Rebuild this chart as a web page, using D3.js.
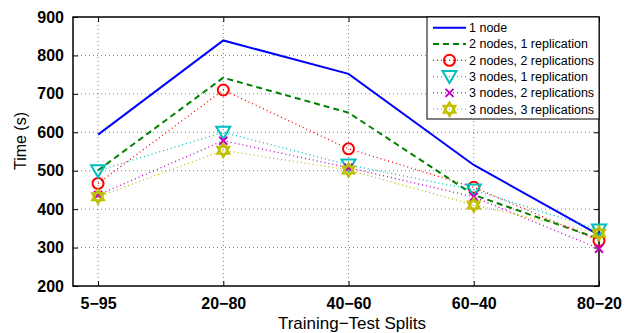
<!DOCTYPE html>
<html lang="en">
<head>
    <title>Training-Test Splits</title>
    <script src="https://d3js.org/d3.v7.min.js"></script>
    <style>
        body { margin: 0; background: white; }
        svg text { font-family: "Liberation Sans", Arial, sans-serif; fill: black; }
        .tick-label { font-size: 16px; font-weight: bold; }
        .grid { stroke: #808080; stroke-width: 1; stroke-dasharray: 1,3; }
    </style>
</head>
<body>
    <svg id="chart"></svg>

    <script>
        var width = 629;
        var height = 333;
        var plot = { left: 73, right: 599, top: 17, bottom: 286 };

        // data
        var splits = ["5\u221295", "20\u221280", "40\u221260", "60\u221240", "80\u221220"];
        var oneNode = [594, 839, 752, 515, 333];
        var twoNodesOneRep = [501, 742, 651, 437, 323];
        var twoNodesTwoRep = [467, 710, 557, 457, 318];
        var threeNodesOneRep = [500, 600, 515, 450, 346];
        var threeNodesTwoRep = [437, 578, 508, 432, 297];
        var threeNodesThreeRep = [432, 553, 502, 411, 337];
        var yTicks = [200, 300, 400, 500, 600, 700, 800, 900];

        var series = [
            { name: "1 node", values: oneNode, color: "#0000ff", width: 2, dash: null, marker: null },
            { name: "2 nodes, 1 replication", values: twoNodesOneRep, color: "#008000", width: 2, dash: "6,4", marker: null },
            { name: "2 nodes, 2 replications", values: twoNodesTwoRep, color: "#ff0000", width: 1.3, dash: "1,3", marker: "circle" },
            { name: "3 nodes, 1 replication", values: threeNodesOneRep, color: "#00bfbf", width: 1.3, dash: "1,3", marker: "triangle" },
            { name: "3 nodes, 2 replications", values: threeNodesTwoRep, color: "#bf00bf", width: 1.3, dash: "1,3", marker: "cross" },
            { name: "3 nodes, 3 replications", values: threeNodesThreeRep, color: "#bfbf00", width: 1.3, dash: "1,3", marker: "hexagram" }
        ];

        var xscale = d3.scaleLinear()
                .domain([0.8, 5])
                .range([plot.left, plot.right]);
        var yscale = d3.scaleLinear()
                .domain([200, 900])
                .range([plot.bottom, plot.top]);

        var svg = d3.select("#chart")
            .attr("width", width)
            .attr("height", height);

        // grid
        svg.append("g").selectAll("line")
            .data(yTicks.slice(1, -1))
            .enter().append("line")
            .attr("class", "grid")
            .attr("x1", plot.left).attr("x2", plot.right)
            .attr("y1", function (d) { return yscale(d); })
            .attr("y2", function (d) { return yscale(d); });
        svg.append("g").selectAll("line")
            .data(d3.range(1, splits.length))
            .enter().append("line")
            .attr("class", "grid")
            .attr("x1", function (d) { return xscale(d); })
            .attr("x2", function (d) { return xscale(d); })
            .attr("y1", plot.top).attr("y2", plot.bottom);

        // axes with inward ticks
        var xaxis = d3.axisBottom(xscale)
            .tickValues(d3.range(1, splits.length + 1))
            .tickFormat(function (d) { return splits[d - 1]; })
            .tickSizeInner(-5).tickSizeOuter(0).tickPadding(12);
        var yaxis = d3.axisLeft(yscale)
            .tickValues(yTicks)
            .tickSizeInner(-5).tickSizeOuter(0).tickPadding(9);

        var gx = svg.append("g")
            .attr("transform", "translate(0," + plot.bottom + ")")
            .call(xaxis);
        var gy = svg.append("g")
            .attr("transform", "translate(" + plot.left + ",0)")
            .call(yaxis);
        svg.append("g")
            .attr("transform", "translate(" + plot.right + ",0)")
            .call(d3.axisRight(yscale).tickValues(yTicks).tickSizeInner(-5).tickSizeOuter(0).tickFormat(""));
        svg.append("g")
            .attr("transform", "translate(0," + plot.top + ")")
            .call(d3.axisTop(xscale).tickValues(d3.range(1, splits.length + 1)).tickSizeInner(-5).tickSizeOuter(0).tickFormat(""));

        svg.selectAll(".domain").remove();
        svg.selectAll(".tick line").attr("stroke", "black");
        [gx, gy].forEach(function (g) {
            g.selectAll("text").attr("class", "tick-label").attr("fill", "black");
        });

        svg.append("rect")
            .attr("x", plot.left).attr("y", plot.top)
            .attr("width", plot.right - plot.left).attr("height", plot.bottom - plot.top)
            .attr("fill", "none").attr("stroke", "black").attr("stroke-width", 1.5);

        // markers
        function drawMarker(g, type, color, cx, cy) {
            if (type === "circle") {
                g.append("circle").attr("cx", cx).attr("cy", cy).attr("r", 5.5)
                    .attr("fill", "none").attr("stroke", color).attr("stroke-width", 2);
            } else if (type === "triangle") {
                g.append("path")
                    .attr("d", "M" + (cx - 7) + "," + (cy - 5.5) + "L" + (cx + 7) + "," + (cy - 5.5) + "L" + cx + "," + (cy + 6.5) + "Z")
                    .attr("fill", "none").attr("stroke", color).attr("stroke-width", 2);
            } else if (type === "cross") {
                g.append("path")
                    .attr("d", "M" + (cx - 4) + "," + (cy - 4) + "L" + (cx + 4) + "," + (cy + 4) + "M" + (cx - 4) + "," + (cy + 4) + "L" + (cx + 4) + "," + (cy - 4))
                    .attr("stroke", color).attr("stroke-width", 2);
            } else if (type === "hexagram") {
                var r = 7;
                var pts1 = [], pts2 = [];
                for (var i = 0; i < 3; i++) {
                    var a1 = -Math.PI / 2 + i * 2 * Math.PI / 3;
                    var a2 = Math.PI / 2 + i * 2 * Math.PI / 3;
                    pts1.push([cx + r * Math.cos(a1), cy + r * Math.sin(a1)]);
                    pts2.push([cx + r * Math.cos(a2), cy + r * Math.sin(a2)]);
                }
                [pts1, pts2].forEach(function (p) {
                    g.append("path").attr("d", "M" + p.join("L") + "Z")
                        .attr("fill", "none").attr("stroke", color).attr("stroke-width", 2)
                        .attr("stroke-linejoin", "miter");
                });
            }
        }

        var line = d3.line()
            .x(function (d, i) { return xscale(i + 1); })
            .y(function (d) { return yscale(d); });

        series.forEach(function (s) {
            var g = svg.append("g");
            g.append("path")
                .attr("d", line(s.values))
                .attr("fill", "none")
                .attr("stroke", s.color)
                .attr("stroke-width", s.width)
                .attr("stroke-dasharray", s.dash);
            if (s.marker) {
                s.values.forEach(function (v, i) {
                    drawMarker(g, s.marker, s.color, xscale(i + 1), yscale(v));
                });
            }
        });

        // legend
        var legend = { x: 427, y: 17, w: 172, h: 102, rowStart: 27.7, rowStep: 16.3 };
        var lg = svg.append("g");
        lg.append("rect")
            .attr("x", legend.x).attr("y", legend.y)
            .attr("width", legend.w).attr("height", legend.h)
            .attr("fill", "white").attr("stroke", "black").attr("stroke-width", 1);
        series.forEach(function (s, i) {
            var y = legend.rowStart + i * legend.rowStep;
            lg.append("line")
                .attr("x1", 433).attr("x2", 466).attr("y1", y).attr("y2", y)
                .attr("stroke", s.color).attr("stroke-width", s.width)
                .attr("stroke-dasharray", s.dash);
            if (s.marker) drawMarker(lg, s.marker, s.color, 449.5, y);
            lg.append("text")
                .attr("x", 469).attr("y", y)
                .attr("dy", "0.35em")
                .style("font-size", "12.5px")
                .text(s.name);
        });

        // axis titles
        svg.append("text")
            .attr("x", 352).attr("y", 329)
            .attr("text-anchor", "middle")
            .style("font-size", "17px")
            .text("Training\u2212Test Splits");
        svg.append("text")
            .attr("transform", "translate(26,141) rotate(-90)")
            .attr("text-anchor", "middle")
            .style("font-size", "16px")
            .text("Time (s)");
    </script>
</body>
</html>
